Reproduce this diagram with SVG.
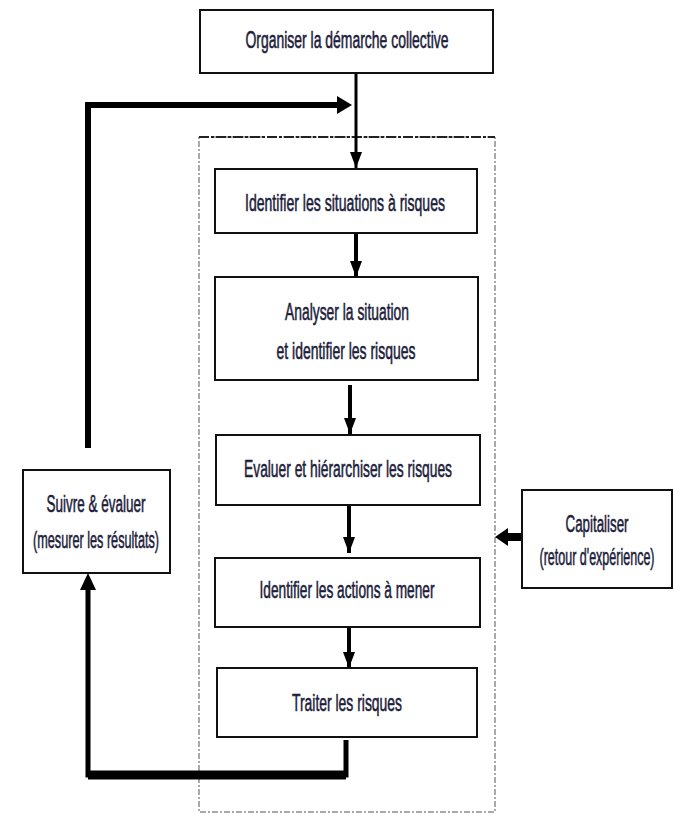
<svg xmlns="http://www.w3.org/2000/svg" width="673" height="814" viewBox="0 0 673 814">
<style>
.box{fill:#fff;stroke:#111;stroke-width:2}
.t{font-family:"Liberation Sans",Arial,sans-serif;font-size:12.5px;fill:#1c1c3a;stroke:#1c1c3a;stroke-width:0.3;text-anchor:middle}
.ln{fill:none;stroke:#000;stroke-linejoin:miter}
.cont{fill:none;stroke:#555;stroke-width:1;stroke-dasharray:6 2 2 2}
</style>
<defs>
<marker id="ah" markerUnits="userSpaceOnUse" viewBox="0 0 16 12" markerWidth="16" markerHeight="12" refX="16" refY="6" orient="auto">
<path d="M0,0 L16,6 L0,12 z" fill="#000"/>
</marker>
</defs>
<rect class="cont" x="199" y="137" width="296" height="675"/>
<line x1="199" y1="137" x2="495" y2="137" stroke="#222" stroke-width="2" stroke-dasharray="10 2 3 2"/>
<g id="connectors">
<line class="ln" x1="356" y1="73" x2="356" y2="168" stroke-width="3" marker-end="url(#ah)"/>
<line class="ln" x1="356" y1="233" x2="356" y2="277" stroke-width="4" marker-end="url(#ah)"/>
<line class="ln" x1="350" y1="385" x2="350" y2="434" stroke-width="4" marker-end="url(#ah)"/>
<line class="ln" x1="349" y1="505" x2="349" y2="553" stroke-width="4" marker-end="url(#ah)"/>
<line class="ln" x1="349" y1="627" x2="349" y2="668" stroke-width="4" marker-end="url(#ah)"/>
<polyline class="ln" points="88,448 88,105 338,105" stroke-width="6"/>
<path d="M337,96 L352,105 L337,114 z" fill="#000"/>
<polyline class="ln" points="346,740 346,775 88,775 88,590" stroke-width="5"/>
<line x1="88" y1="775" x2="346" y2="775" stroke="#000" stroke-width="9"/>
<path d="M80,590 L88,573 L96,590 z" fill="#000"/>
<line class="ln" x1="522" y1="537" x2="506" y2="537" stroke-width="8"/>
<path d="M508,528 L495,537 L508,546 z" fill="#000"/>
</g>
<g id="n_organiser">
<rect class="box" x="200" y="10" width="293" height="63"/>
<text class="t" transform="translate(347,48) scale(1,1.98)" textLength="203" lengthAdjust="spacingAndGlyphs">Organiser la démarche collective</text>
</g>
<g id="n_identifier_situations">
<rect class="box" x="215" y="169" width="262" height="64"/>
<text class="t" transform="translate(345,211) scale(1,1.98)" textLength="200" lengthAdjust="spacingAndGlyphs">Identifier les situations à risques</text>
</g>
<g id="n_analyser">
<rect class="box" x="215" y="277" width="263" height="103"/>
<text class="t" transform="translate(347,320) scale(1,1.98)" textLength="124" lengthAdjust="spacingAndGlyphs">Analyser la situation</text>
<text class="t" transform="translate(346,359) scale(1,1.98)" textLength="139" lengthAdjust="spacingAndGlyphs">et identifier les risques</text>
</g>
<g id="n_evaluer">
<rect class="box" x="216" y="435" width="264" height="70"/>
<text class="t" transform="translate(348,477) scale(1,1.98)" textLength="208" lengthAdjust="spacingAndGlyphs">Evaluer et hiérarchiser les risques</text>
</g>
<g id="n_actions">
<rect class="box" x="215" y="558" width="265" height="69"/>
<text class="t" transform="translate(347,598) scale(1,1.98)" textLength="175" lengthAdjust="spacingAndGlyphs">Identifier les actions à mener</text>
</g>
<g id="n_traiter">
<rect class="box" x="217" y="668" width="260" height="69"/>
<text class="t" transform="translate(347,711) scale(1,1.98)" textLength="110" lengthAdjust="spacingAndGlyphs">Traiter les risques</text>
</g>
<g id="n_suivre">
<rect class="box" x="23" y="470" width="147" height="103"/>
<text class="t" transform="translate(96,512) scale(1,1.98)" textLength="99" lengthAdjust="spacingAndGlyphs">Suivre &amp; évaluer</text>
<text class="t" transform="translate(96,548) scale(1,1.98)" textLength="126" lengthAdjust="spacingAndGlyphs">(mesurer les résultats)</text>
</g>
<g id="n_capitaliser">
<rect class="box" x="522" y="490" width="150" height="98"/>
<text class="t" transform="translate(597,532) scale(1,1.98)" textLength="63" lengthAdjust="spacingAndGlyphs">Capitaliser</text>
<text class="t" transform="translate(597,565) scale(1,1.98)" textLength="115" lengthAdjust="spacingAndGlyphs">(retour d'expérience)</text>
</g>
</svg>
